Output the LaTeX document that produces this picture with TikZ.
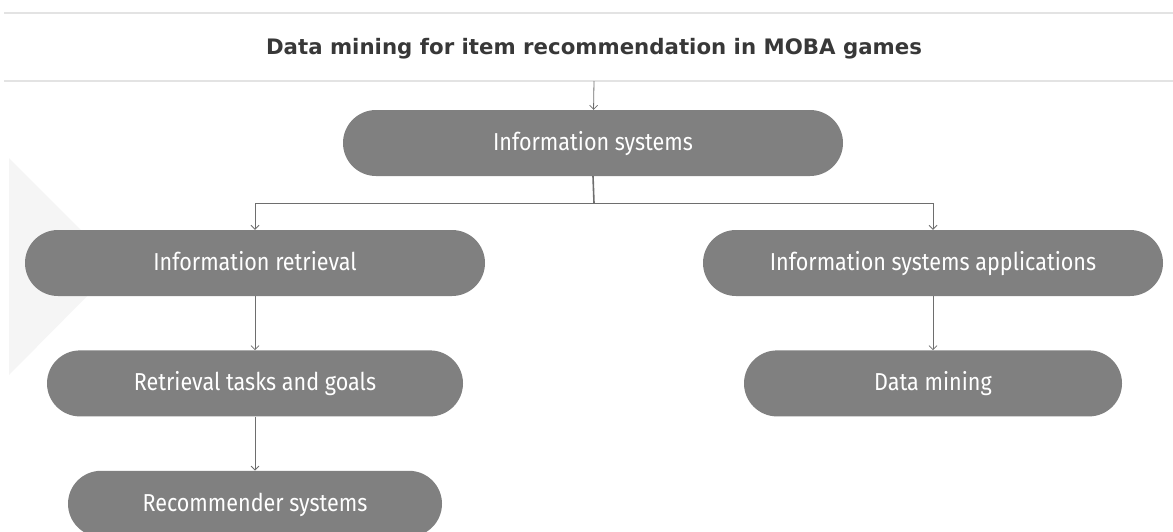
\documentclass[tikz,border=0pt]{standalone}
\usepackage{fontspec}
\setmainfont{Fira Sans}[FakeStretch=0.88]
\newfontfamily\titlefont{DejaVu Sans}
\usetikzlibrary{arrows.meta, positioning}

\definecolor{boxgray}{HTML}{808080}
\definecolor{linegray}{HTML}{6E6E6E}
\definecolor{rulegray}{HTML}{E3E3E3}
\definecolor{shadegray}{HTML}{F5F5F5}

\begin{document}
\begin{tikzpicture}[
        x=1pt, y=1pt,
        node distance=54pt,
        topic/.style={rectangle, rounded corners=33pt, fill=boxgray, text=white,
            minimum height=66pt, text height=18pt, text depth=3pt,
            font=\fontsize{24.5}{28}\selectfont},
        link/.style={draw=linegray, line width=0.8pt, -{Straight Barb[length=4pt, width=8pt]}}
    ]
        \useasboundingbox (0,0) rectangle (1173,-531);

        % Background
        \fill[shadegray] (9,-158) -- (117,-266) -- (9,-375) -- cycle;
        \draw[rulegray, line width=1.6pt] (4,-13) -- (1173,-13);
        \draw[rulegray, line width=1.6pt] (4,-81) -- (1173,-81);
        \node[font=\titlefont\fontsize{21.3}{24}\selectfont\bfseries, text=black!78] (title) at (594,-48.5) {Data mining for item recommendation in MOBA games};
        \coordinate (start) at (594,-81);

        % Topics
        \node[topic, minimum width=500pt] (sys) at (593,-143) {Information systems};
        \node[topic, minimum width=460pt] (ir) at (255,-263) {Information retrieval};
        \node[topic, minimum width=460pt] (isa) at (933,-263) {Information systems applications};
        \node[topic, minimum width=416pt, below=of ir] (rtg) {Retrieval tasks and goals};
        \node[topic, minimum width=374pt, below=of rtg] (rs) {Recommender systems};
        \node[topic, minimum width=378pt, below=of isa] (dm) {Data mining};

        % Connections
        \coordinate (split) at (594,-203);
        \draw[link] (start) -- (sys);
        \draw[draw=linegray, line width=1.6pt] (sys.south) -- (split);
        \draw[link] (split) -| (ir);
        \draw[link] (split) -| (isa);
        \draw[link] (ir) -- (rtg);
        \draw[link] (rtg) -- (rs);
        \draw[link] (isa) -- (dm);
    \end{tikzpicture}
\end{document}
